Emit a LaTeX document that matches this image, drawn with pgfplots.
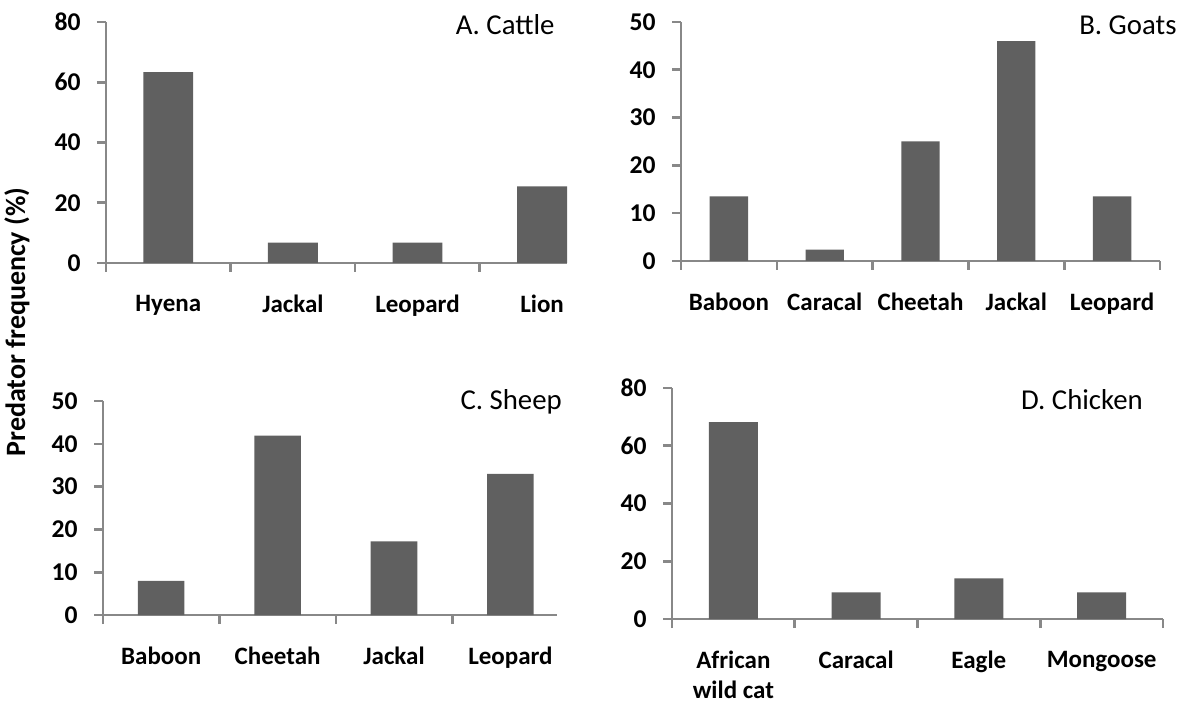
\documentclass[border=0pt]{standalone}
\usepackage{fontspec}
\setmainfont{Carlito}
\usepackage{pgfplots}
\pgfplotsset{compat=1.18}
\definecolor{bargray}{HTML}{606060}
\definecolor{axgray}{HTML}{888888}
\tikzset{ttl/.style={font=\fontsize{14.4}{16}\selectfont}}
\pgfplotsset{
  panel/.style={
    scale only axis,
    anchor=south west,
    axis x line*=bottom,
    axis y line*=left,
    axis line style={draw=axgray, line width=1.3pt, -},
    ymin=0,
    xmin=-0.5,
    clip=false,
    tick align=outside,
    major tick length=4.5pt,
    tick style={draw=axgray, line width=1.3pt},
    xticklabels={},
    /pgf/number format/assume math mode=true,
    yticklabel style={font=\bfseries\fontsize{12.8}{14}\selectfont, inner sep=0pt, anchor=east, xshift=-8pt},
    xticklabel style={font=\bfseries\fontsize{12.5}{15}\selectfont, inner sep=0pt, anchor=north, yshift=-16pt, align=center},
    extra x tick style={major tick length=0pt},
    ybar,
    bar width=0.4,
  },
  bars/.style={fill=bargray, draw=none},
}
\begin{document}
\begin{tikzpicture}
\useasboundingbox (0,0) rectangle (589pt,353.5pt);
% A. Cattle
\begin{axis}[panel, at={(53pt,222pt)}, width=230.5pt, height=120.5pt,
  xmax=3.2, ymax=80, ytick={0,20,40,60,80},
  xtick={-0.5,0.5,1.5,2.5},
  extra x ticks={0,1,2,3},
  extra x tick labels={Hyena,Jackal,Leopard,Lion}]
\addplot[bars] coordinates {(0,63.4) (1,6.8) (2,6.8) (3,25.4)};
\node[ttl] at (rel axis cs:0.866,0.988) {A. Cattle};
\end{axis}
% B. Goats
\begin{axis}[panel, at={(340.5pt,223pt)}, width=239.5pt, height=119.5pt,
  xmax=4.5, ymax=50, ytick={0,10,20,30,40,50},
  xtick={-0.5,0.5,1.5,2.5,3.5,4.5},
  extra x ticks={0,1,2,3,4},
  extra x tick labels={Baboon,Caracal,Cheetah,Jackal,Leopard}]
\addplot[bars] coordinates {(0,13.5) (1,2.4) (2,25.0) (3,46.0) (4,13.5)};
\node[ttl] at (rel axis cs:0.933,0.987) {B. Goats};
\end{axis}
% C. Sheep
\begin{axis}[panel, at={(51.5pt,46pt)}, width=227pt, height=107pt,
  xmax=3.4, ymax=50, ytick={0,10,20,30,40,50},
  xtick={-0.5,0.5,1.5,2.5},
  extra x ticks={0,1,2,3},
  extra x tick labels={Baboon,Cheetah,Jackal,Leopard}]
\addplot[bars] coordinates {(0,8.0) (1,41.9) (2,17.2) (3,33.0)};
\node[ttl] at (rel axis cs:0.899,0.995) {C. Sheep};
\end{axis}
% D. Chicken
\begin{axis}[panel, at={(336pt,44pt)}, width=245.5pt, height=115.5pt,
  xmax=3.5, ymax=80, ytick={0,20,40,60,80},
  xtick={-0.5,0.5,1.5,2.5,3.5},
  extra x ticks={0,1,2,3},
  extra x tick labels={African\\wild cat,Caracal,Eagle,Mongoose}]
\addplot[bars] coordinates {(0,68.2) (1,9.2) (2,14.1) (3,9.2)};
\node[ttl] at (rel axis cs:0.835,0.948) {D. Chicken};
\end{axis}
\node[rotate=90, font=\bfseries\fontsize{14}{16}\selectfont] at (8.5pt,192.5pt) {Predator frequency (\%)};
\end{tikzpicture}
\end{document}
